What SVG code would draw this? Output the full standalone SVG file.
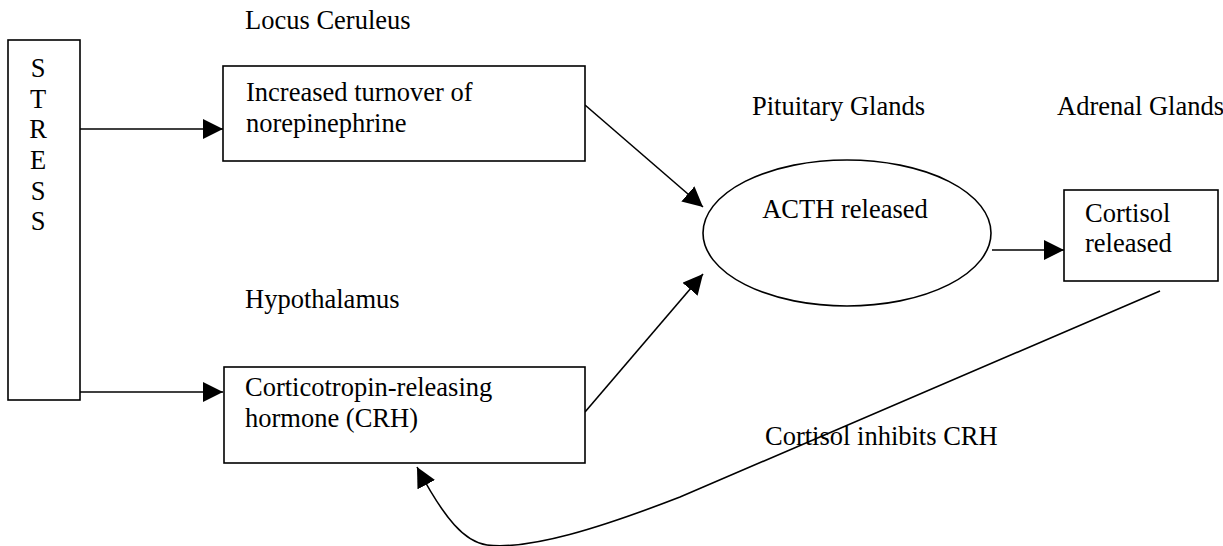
<svg xmlns="http://www.w3.org/2000/svg" width="1223" height="546" viewBox="0 0 1223 546">
<style>
.box{fill:#fff;stroke:#000;stroke-width:1.6}
.t{font-family:"Liberation Serif","Times New Roman",serif;font-size:26.5px;fill:#000}
.c{fill:none;stroke:#000;stroke-width:1.6}
</style>
<defs>
<marker id="ah" markerUnits="userSpaceOnUse" markerWidth="20" markerHeight="20" refX="20" refY="10" orient="auto" viewBox="0 0 20 20">
<path d="M0,0 L20,10 L0,20 z" fill="#000"/>
</marker>
</defs>
<rect width="1223" height="546" fill="#fff"/>
<g id="connectors">
<line class="c" x1="80" y1="129" x2="223" y2="129" marker-end="url(#ah)"/>
<line class="c" x1="80" y1="392" x2="223" y2="392" marker-end="url(#ah)"/>
<line class="c" x1="585" y1="105" x2="703" y2="207" marker-end="url(#ah)"/>
<line class="c" x1="585" y1="412" x2="703" y2="274" marker-end="url(#ah)"/>
<line class="c" x1="992" y1="250" x2="1064" y2="250" marker-end="url(#ah)"/>
<path class="c" d="M1160,291 L680,497 C600,528 530,550 487,545 C465,542 445,520 417,467" marker-end="url(#ah)"/>
</g>
<g id="stress">
<rect class="box" x="8" y="40" width="72" height="360"/>
<text class="t" x="38" text-anchor="middle"><tspan x="38" y="77">S</tspan><tspan x="38" y="107.5">T</tspan><tspan x="38" y="138">R</tspan><tspan x="38" y="169">E</tspan><tspan x="38" y="199.5">S</tspan><tspan x="38" y="230">S</tspan></text>
</g>
<g id="locus">
<text class="t" x="245" y="29">Locus Ceruleus</text>
</g>
<g id="norepinephrine">
<rect class="box" x="223" y="66" width="362" height="95"/>
<text class="t"><tspan x="246" y="101">Increased turnover of</tspan><tspan x="246" y="132">norepinephrine</tspan></text>
</g>
<g id="hypothalamus">
<text class="t" x="245" y="308">Hypothalamus</text>
</g>
<g id="crh">
<rect class="box" x="224" y="367" width="361" height="96"/>
<text class="t"><tspan x="245" y="396">Corticotropin-releasing</tspan><tspan x="245" y="427">hormone (CRH)</tspan></text>
</g>
<g id="pituitary">
<text class="t" x="752" y="115">Pituitary Glands</text>
</g>
<g id="acth">
<ellipse class="box" cx="847" cy="233" rx="144" ry="73"/>
<text class="t" x="845" y="218" text-anchor="middle">ACTH released</text>
</g>
<g id="adrenal">
<text class="t" x="1057" y="115">Adrenal Glands</text>
</g>
<g id="cortisol">
<rect class="box" x="1064" y="190" width="154" height="91"/>
<text class="t"><tspan x="1085" y="222">Cortisol</tspan><tspan x="1085" y="252">released</tspan></text>
</g>
<g id="inhibits">
<text class="t" x="765" y="445">Cortisol inhibits CRH</text>
</g>
</svg>
